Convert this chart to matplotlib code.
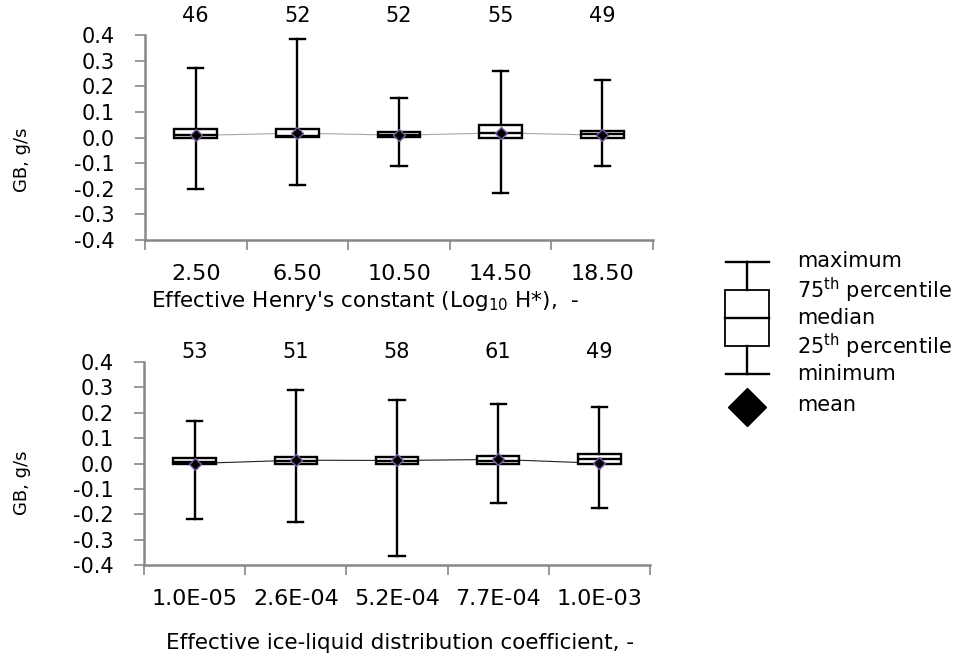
import matplotlib
matplotlib.use("Agg")
import matplotlib.pyplot as plt
from matplotlib.patches import Rectangle
from matplotlib.transforms import blended_transform_factory

plt.rcParams['font.family'] = ['DejaVu Sans']
plt.rcParams['mathtext.fontset'] = 'dejavusans'

# Henry's constant panel
henry_labels = ['2.50', '6.50', '10.50', '14.50', '18.50']
henry_n = [46, 52, 52, 55, 49]
henry_min = [-0.200, -0.184, -0.110, -0.216, -0.113]
henry_q1 = [0.000, 0.001, 0.001, 0.000, 0.000]
henry_med = [0.010, 0.006, 0.010, 0.017, 0.013]
henry_q3 = [0.035, 0.032, 0.023, 0.048, 0.027]
henry_max = [0.273, 0.384, 0.155, 0.261, 0.226]
henry_mean = [0.008, 0.017, 0.009, 0.018, 0.009]

# ice-liquid distribution coefficient panel
kd_labels = ['1.0E-05', '2.6E-04', '5.2E-04', '7.7E-04', '1.0E-03']
kd_n = [53, 51, 58, 61, 49]
kd_min = [-0.218, -0.231, -0.366, -0.157, -0.174]
kd_q1 = [0.000, 0.000, 0.000, 0.000, 0.000]
kd_med = [0.006, 0.009, 0.009, 0.010, 0.016]
kd_q3 = [0.023, 0.025, 0.027, 0.030, 0.036]
kd_max = [0.166, 0.290, 0.250, 0.236, 0.223]
kd_mean = [0.000, 0.013, 0.012, 0.016, 0.001]

W, H = 967, 653
fig = plt.figure(figsize=(W / 100, H / 100), dpi=100)


def px_axes(left, right, top, bottom):
    return fig.add_axes([left / W, 1 - bottom / H, (right - left) / W, (bottom - top) / H])


def panel(ax, labels, n, lo, q1, med, q3, hi, mean, xlabel, line_color,
          n_offset, xlabel_xy, ylabel_y):
    pos = list(range(1, len(labels) + 1))
    stats = [dict(whislo=a, q1=b, med=c, q3=d, whishi=e, mean=f, fliers=[])
             for a, b, c, d, e, f in zip(lo, q1, med, q3, hi, mean)]
    ax.plot(pos, mean, color=line_color, lw=0.8, zorder=1)
    ax.bxp(stats, positions=pos, widths=0.42, capwidths=0.15,
           showmeans=True, patch_artist=True,
           boxprops=dict(facecolor='white', edgecolor='black', lw=1.7),
           medianprops=dict(color='black', lw=1.7),
           whiskerprops=dict(color='black', lw=1.7),
           capprops=dict(color='black', lw=1.7),
           meanprops=dict(marker='D', markerfacecolor='black',
                          markeredgecolor='#7b5ea7', markersize=6, mew=1),
           zorder=2)

    ax.set_xlim(0.5, len(labels) + 0.5)
    ax.set_ylim(-0.4, 0.4)
    ax.set_yticks([-0.4, -0.3, -0.2, -0.1, 0.0, 0.1, 0.2, 0.3, 0.4])
    ax.set_yticklabels(['%.1f' % v for v in ax.get_yticks()])
    ax.set_xticks([p - 0.5 for p in pos] + [pos[-1] + 0.5])
    ax.set_xticklabels([])
    ax.set_xticks(pos, minor=True)
    ax.set_xticklabels(labels, minor=True)
    ax.tick_params(axis='x', which='major', direction='out', length=7,
                   width=1.2, color='#888888')
    ax.tick_params(axis='x', which='minor', length=0, pad=17, labelsize=16)
    ax.tick_params(axis='y', direction='out', length=7, width=1.2,
                   color='#888888', pad=15, labelsize=15)
    for s in ('top', 'right'):
        ax.spines[s].set_visible(False)
    for s in ('left', 'bottom'):
        ax.spines[s].set_color('#888888')
        ax.spines[s].set_linewidth(1.8)

    trans = blended_transform_factory(ax.transData, ax.transAxes)
    for p, c in zip(pos, n):
        ax.text(p, 1 + n_offset, str(c), transform=trans, ha='center',
                va='center', fontsize=15)

    fig.text(xlabel_xy[0] / W, 1 - xlabel_xy[1] / H, xlabel, ha='center',
             va='center', fontsize=15.5)
    fig.text(22 / W, 1 - ylabel_y / H, 'GB, g/s', rotation=90, ha='center',
             va='center', fontsize=13,
             family=['Liberation Sans Narrow', 'DejaVu Sans'])


ax1 = px_axes(145, 653, 35, 240)
panel(ax1, henry_labels, henry_n, henry_min, henry_q1, henry_med, henry_q3,
      henry_max, henry_mean,
      "Effective Henry's constant (Log$_{10}$ H*),  -", '#a6a6a6',
      19 / 205, (365, 301), 160)

ax2 = px_axes(144, 650, 362, 565)
panel(ax2, kd_labels, kd_n, kd_min, kd_q1, kd_med, kd_q3, kd_max, kd_mean,
      'Effective ice-liquid distribution coefficient, -', '#222222',
      10 / 203, (400, 643), 483)

# key explaining the box symbols
key = fig.add_axes([0, 0, 1, 1])
key.set_xlim(0, W)
key.set_ylim(H, 0)
key.axis('off')
kx = 747
key.plot([726, 769], [262, 262], color='black', lw=1.7)
key.plot([726, 769], [374, 374], color='black', lw=1.7)
key.plot([kx, kx], [262, 290], color='black', lw=1.7)
key.plot([kx, kx], [346, 374], color='black', lw=1.7)
key.add_patch(Rectangle((725, 290), 44, 56, facecolor='white',
                        edgecolor='black', lw=1.3))
key.plot([725, 769], [318, 318], color='black', lw=1.7)
key.plot([kx], [407], marker='D', color='black', markersize=19)
key_text = ['maximum', '75$^{\\mathrm{th}}$ percentile', 'median',
            '25$^{\\mathrm{th}}$ percentile', 'minimum', 'mean']
key_y = [261, 290, 318, 346, 374, 405]
for t, y in zip(key_text, key_y):
    key.text(797, y, t, ha='left', va='center', fontsize=15)

fig.savefig('out.png', dpi=100)
